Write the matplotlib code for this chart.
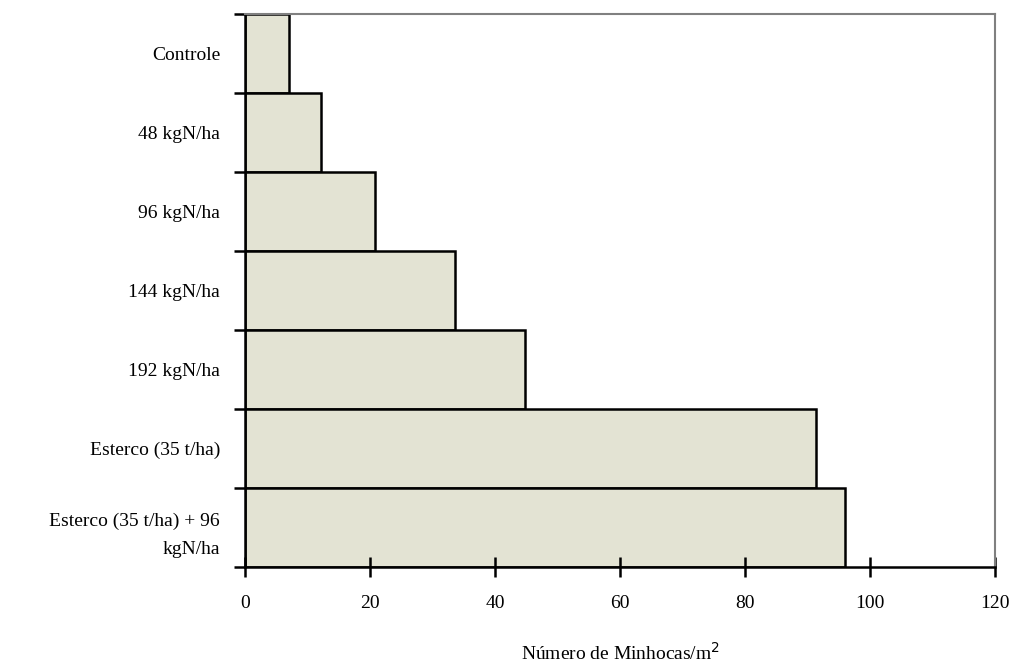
import numpy as np
import matplotlib.pyplot as plt
from matplotlib.ticker import FixedLocator

categories = ["Controle", "48 kgN/ha", "96 kgN/ha", "144 kgN/ha", "192 kgN/ha",
              "Esterco (35 t/ha)", "Esterco (35 t/ha) + 96\nkgN/ha"]
values = [7.0, 12.2, 20.8, 33.6, 44.8, 91.4, 96.0]
xticks = [0, 20, 40, 60, 80, 100, 120]

plt.rcParams['font.family'] = ['Liberation Serif', 'DejaVu Serif']

fig = plt.figure(figsize=(10.13, 6.69), dpi=100)
ax = fig.add_axes([0.2419, 0.1525, 0.7403, 0.8265])

pos = np.arange(len(categories))
ax.barh(pos, values, height=1.0, color="#e3e3d3", edgecolor="black", linewidth=1.8)

ax.set_xlim(0, 120)
ax.set_ylim(len(categories) - 0.5, -0.5)
ax.set_xticks(xticks)
ax.set_xticklabels([str(t) for t in xticks], fontsize=14)
ax.set_yticks(pos)
ax.set_yticklabels(categories, fontsize=14, linespacing=1.9)
ax.yaxis.set_minor_locator(FixedLocator(np.arange(len(categories) + 1) - 0.5))

ax.tick_params(axis="y", which="major", length=0, pad=18)
ax.tick_params(axis="y", which="minor", length=8, width=1.8, direction="out")
ax.tick_params(axis="x", which="major", length=14, width=1.8, direction="inout", pad=13)

for s in ["left", "bottom"]:
    ax.spines[s].set_linewidth(1.8)
    ax.spines[s].set_color("black")
for s in ["top", "right"]:
    ax.spines[s].set_linewidth(1.5)
    ax.spines[s].set_color("#808080")

ax.set_xlabel("Número de Minhocas/m$^2$", fontsize=14, labelpad=22)

fig.savefig("out.png", dpi=100)
